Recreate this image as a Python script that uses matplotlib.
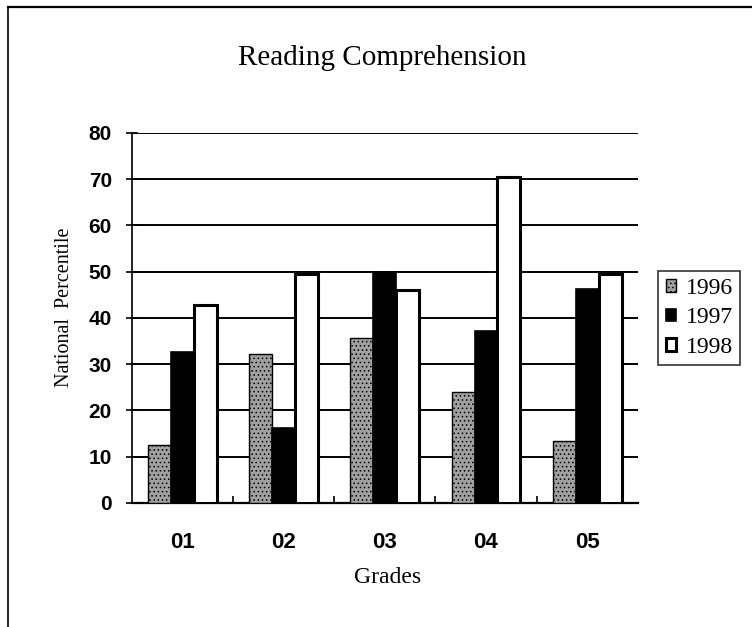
import numpy as np
import matplotlib
matplotlib.use("Agg")
import matplotlib.pyplot as plt
from matplotlib.lines import Line2D

# Data
grades = ["01", "02", "03", "04", "05"]
years = ["1996", "1997", "1998"]
p1996 = [12.6, 32.3, 35.7, 24.0, 13.5]
p1997 = [32.6, 16.2, 49.9, 37.1, 46.3]
p1998 = [42.9, 49.6, 46.1, 70.5, 49.4]

serif = "Liberation Serif"
sans = "Liberation Sans"
plt.rcParams["hatch.linewidth"] = 0.6

fig = plt.figure(figsize=(7.52, 6.27), dpi=100)
ax = fig.add_axes([0.1755, 0.1978, 0.6725, 0.5902])

x = np.arange(len(grades))
w = 0.227
ax.bar(x - w, p1996, w, facecolor="#a0a0a0", edgecolor="black", hatch="....",
       linewidth=1.0, zorder=3, label=years[0])
ax.bar(x, p1997, w, facecolor="black", edgecolor="black", linewidth=1.2,
       zorder=3, label=years[1])
ax.bar(x + w, p1998, w, facecolor="white", edgecolor="black", linewidth=2.2,
       zorder=3, label=years[2])

ax.set_xlim(-0.5, 4.5)
ax.set_ylim(0, 80)
ax.set_yticks(range(0, 81, 10))
ax.yaxis.grid(True, color="black", linewidth=1.4, zorder=0)
for s in ["top", "right"]:
    ax.spines[s].set_visible(False)
ax.spines["left"].set_linewidth(1.2)
ax.spines["bottom"].set_linewidth(1.6)

ax.set_xticks(x)
ax.set_xticklabels(grades, fontfamily=sans, fontsize=16, fontweight="bold")
ax.tick_params(axis="x", length=0, pad=21)
ax.set_xticks(np.arange(0.5, 4.5, 1.0), minor=True)
ax.tick_params(axis="x", which="minor", direction="in", length=5, width=1.2)
ax.tick_params(axis="y", direction="inout", length=9, width=1.2, pad=10)
for t in ax.get_yticklabels():
    t.set_fontfamily(sans)
    t.set_fontweight("bold")
    t.set_fontsize(15)

ax.set_ylabel("National  Percentile", fontfamily=serif, fontsize=14.5)
ax.yaxis.set_label_coords(-0.115, 0.53)
ax.set_xlabel("Grades", fontfamily=serif, fontsize=17)
ax.xaxis.set_label_coords(0.505, -0.172)
fig.text(0.508, 0.9075, "Reading Comprehension", fontfamily=serif, fontsize=21,
         ha="center", va="center")

leg = ax.legend(loc="center left", bbox_to_anchor=(1.041, 0.5),
                prop={"family": serif, "size": 17}, frameon=True, fancybox=False,
                edgecolor="black", handlelength=0.45, handleheight=0.45,
                handletextpad=0.4, borderpad=0.3, labelspacing=0.35,
                borderaxespad=0)
leg.get_frame().set_linewidth(1.2)

# page border lines (left and top)
fig.add_artist(Line2D([8 / 752, 8 / 752], [0, 1 - 7 / 627], color="black", linewidth=1.2))
fig.add_artist(Line2D([8 / 752, 1], [1 - 7 / 627, 1 - 7 / 627], color="black", linewidth=1.6))

fig.savefig("out.png", dpi=100, facecolor="white")
